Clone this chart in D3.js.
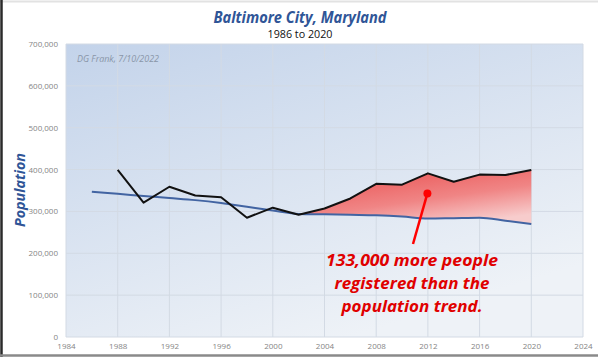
<!DOCTYPE html>
<html><head><meta charset="utf-8">
<script src="https://cdn.jsdelivr.net/npm/d3@7"></script>
<style>html,body{margin:0;padding:0;background:#fff;}svg{display:block;}</style>
</head><body>
<svg id="chart" width="598" height="357"></svg>
<script>
const regYears = [1988,1990,1992,1994,1996,1998,2000,2002,2004,2006,2008,2010,2012,2014,2016,2018,2020];
const registered = [399000,321000,359000,338000,334000,285000,309000,292000,307000,331000,366000,364000,391000,371000,388000,387000,399000];
const popYears = [1986,1988,1990,1992,1994,1996,1998,2000,2002,2004,2006,2008,2010,2012,2014,2016,2018,2020];
const population = [347000,342000,337000,332000,327000,320000,311000,302000,294000,293000,292000,291000,288000,283000,284000,285000,278000,270000];
const xTicks = [1984,1988,1992,1996,2000,2004,2008,2012,2016,2020,2024];
const yTicks = [0,100000,200000,300000,400000,500000,600000,700000];
const title = "Baltimore City, Maryland";
const subtitle = "1986 to 2020";
const credit = "DG Frank, 7/10/2022";
const yTitle = "Population";
const noteLines = ["133,000 more people","registered than the","population trend."];
const fillStart = 2002;

const svg = d3.select("#chart");
const L = 66, R = 583, T = 44, B = 337;
const x = d3.scaleLinear().domain([1984,2024]).range([L,R]);
const y = d3.scaleLinear().domain([0,700000]).range([B,T]);
const FONT = "'Open Sans', 'Liberation Sans', sans-serif";

// frame
svg.append("rect").attr("x",0).attr("y",0).attr("width",598).attr("height",357).attr("fill","#fff");
svg.append("line").attr("x1",0).attr("x2",598).attr("y1",1.5).attr("y2",1.5).attr("stroke","#e2e2e2").attr("stroke-width",2);
svg.append("line").attr("x1",1.5).attr("x2",1.5).attr("y1",0).attr("y2",357).attr("stroke","#2a2a2a").attr("stroke-width",2.5);
svg.append("line").attr("x1",0).attr("x2",598).attr("y1",355.5).attr("y2",355.5).attr("stroke","#8a8a8a").attr("stroke-width",2.5);

const defs = svg.append("defs");
const bg = defs.append("linearGradient").attr("id","bg").attr("x1",0).attr("y1",0).attr("x2",0.55).attr("y2",1);
bg.append("stop").attr("offset","0%").attr("stop-color","#c3d3ea");
bg.append("stop").attr("offset","100%").attr("stop-color","#eef2f7");
const rg = defs.append("linearGradient").attr("id","rg").attr("x1",0.1).attr("y1",0).attr("x2",0.7).attr("y2",1);
rg.append("stop").attr("offset","0%").attr("stop-color","#e94e4e");
rg.append("stop").attr("offset","60%").attr("stop-color","#f08585");
rg.append("stop").attr("offset","100%").attr("stop-color","#f7cccc");

svg.append("rect").attr("x",L).attr("y",T).attr("width",R-L).attr("height",B-T).attr("fill","url(#bg)");

// grid
const g = svg.append("g");
g.selectAll(".gx").data(xTicks).join("line")
  .attr("x1",d=>x(d)).attr("x2",d=>x(d)).attr("y1",T).attr("y2",B)
  .attr("stroke","#d3dae4").attr("stroke-width",1);
g.selectAll(".gy").data(yTicks).join("line")
  .attr("x1",L).attr("x2",R).attr("y1",d=>y(d)).attr("y2",d=>y(d))
  .attr("stroke","#d3dae4").attr("stroke-width",1);

// axes labels
const xAxis = d3.axisBottom(x).tickValues(xTicks).tickFormat(d3.format("d")).tickSize(0).tickPadding(6);
const xa = svg.append("g").attr("transform",`translate(0,${B})`).call(xAxis);
xa.select(".domain").remove();
xa.selectAll("text").attr("fill","#858585").style("font-family",FONT).style("font-size","8px");
const yAxis = d3.axisLeft(y).tickValues(yTicks).tickFormat(d3.format(",")).tickSize(0).tickPadding(8);
const ya = svg.append("g").attr("transform",`translate(${L},0)`).call(yAxis);
ya.select(".domain").remove();
ya.selectAll("text").attr("fill","#858585").style("font-family",FONT).style("font-size","8px");

// red area
const popMap = new Map(popYears.map((d,i)=>[d,population[i]]));
const areaData = regYears.map((d,i)=>({yr:d, hi:registered[i], lo:popMap.get(d)})).filter(d=>d.yr>=fillStart);
svg.append("path").datum(areaData)
  .attr("d", d3.area().x(d=>x(d.yr)).y0(d=>y(d.lo)).y1(d=>y(d.hi)))
  .attr("fill","url(#rg)");

// lines
svg.append("path").datum(popYears.map((d,i)=>[d,population[i]]))
  .attr("d", d3.line().x(d=>x(d[0])).y(d=>y(d[1])).curve(d3.curveMonotoneX))
  .attr("fill","none").attr("stroke","#4264a2").attr("stroke-width",2);
svg.append("path").datum(regYears.map((d,i)=>[d,registered[i]]))
  .attr("d", d3.line().x(d=>x(d[0])).y(d=>y(d[1])))
  .attr("fill","none").attr("stroke","#111").attr("stroke-width",2).attr("stroke-linejoin","round");

function fitText(sel, w){ sel.attr("textLength", w).attr("lengthAdjust","spacingAndGlyphs"); return sel; }

// titles
fitText(svg.append("text").attr("x",300).attr("y",22.5).attr("text-anchor","middle")
  .attr("fill","#2f5597").style("font-family",FONT).style("font-size","15.5px")
  .style("font-weight","bold").style("font-style","italic").text(title),173);
fitText(svg.append("text").attr("x",300).attr("y",38).attr("text-anchor","middle")
  .attr("fill","#111").style("font-family",FONT).style("font-size","11.5px").text(subtitle),65);
fitText(svg.append("text").attr("x",77).attr("y",61.5)
  .attr("fill","#8a96a8").style("font-family",FONT).style("font-size","8.5px").style("font-style","italic").text(credit),82);
fitText(svg.append("text").attr("transform","translate(25,190) rotate(-90)").attr("text-anchor","middle")
  .attr("fill","#2f5597").style("font-family",FONT).style("font-size","14px")
  .style("font-weight","bold").style("font-style","italic").text(yTitle),74);

// annotation
const noteYr = 2012, noteVal = registered[regYears.indexOf(2012)] - 48000;
svg.append("line").attr("x1",413).attr("y1",244).attr("x2",x(noteYr)-0.5).attr("y2",y(noteVal))
  .attr("stroke","#ff0000").attr("stroke-width",2.5);
svg.append("circle").attr("cx",x(noteYr)-0.5).attr("cy",y(noteVal)).attr("r",4).attr("fill","#ff0000");
const widths = [172,155,141];
noteLines.forEach((t,i)=>{
  fitText(svg.append("text").attr("x",412).attr("y",265.5+i*23).attr("text-anchor","middle")
    .attr("fill","#e00000").style("font-family",FONT).style("font-size","16.5px")
    .style("font-weight","bold").style("font-style","italic").text(t), widths[i]);
});
</script>
</body></html>
